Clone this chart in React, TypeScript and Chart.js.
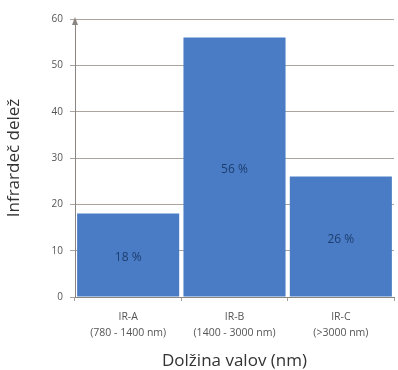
import React, { useEffect, useRef } from "react";
import { Chart, registerables } from "chart.js";

Chart.register(...registerables);

const categories: string[][] = [
  ["IR-A", "(780 - 1400 nm)"],
  ["IR-B", "(1400 - 3000 nm)"],
  ["IR-C", "(>3000 nm)"],
];
const values: number[] = [18, 56, 26];
const valueLabels: string[] = ["18 %", "56 %", "26 %"];
const yTicks = { min: 0, max: 60, step: 10 };
const xTitle = "Dolžina valov (nm)";
const yTitle = "Infrardeč delež";

const barLabelPlugin = {
  id: "barLabels",
  afterDatasetsDraw(chart: any) {
    const ctx = chart.ctx;
    const meta = chart.getDatasetMeta(0);
    ctx.save();
    ctx.fillStyle = "#1d3d6e";
    ctx.font = "12px 'Open Sans'";
    ctx.textAlign = "center";
    ctx.textBaseline = "middle";
    meta.data.forEach((bar: any, i: number) => {
      const y = (bar.y + bar.base) / 2;
      ctx.fillText(valueLabels[i], bar.x, y + 3);
    });
    ctx.restore();
  },
};

const axisArrowPlugin = {
  id: "axisArrow",
  afterDraw(chart: any) {
    const { ctx, chartArea } = chart;
    ctx.save();
    ctx.fillStyle = "#8a8580";
    ctx.beginPath();
    ctx.moveTo(chartArea.left, chartArea.top - 2);
    ctx.lineTo(chartArea.left - 3, chartArea.top + 6);
    ctx.lineTo(chartArea.left + 3, chartArea.top + 6);
    ctx.closePath();
    ctx.fill();
    ctx.restore();
  },
};

export default function App() {
  const ref = useRef<HTMLCanvasElement | null>(null);
  useEffect(() => {
    if (!ref.current) return;
    const chart = new Chart(ref.current, {
      type: "bar",
      data: {
        labels: categories,
        datasets: [
          {
            data: values,
            backgroundColor: "#4a7cc6",
            barPercentage: 0.96,
            categoryPercentage: 1,
          },
        ],
      },
      options: {
        animation: false,
        responsive: false,
        maintainAspectRatio: false,
        layout: { padding: { left: 0, right: 4, top: 19, bottom: 0 } },
        plugins: { legend: { display: false }, tooltip: { enabled: false } },
        scales: {
          x: {
            afterFit(scale: any) {
              scale.height = 73;
            },
            grid: {
              drawOnChartArea: false,
              offset: true,
              tickLength: 4,
              color: "#a8a29c",
            },
            border: { color: "#8a8580", width: 1 },
            ticks: {
              color: "#555",
              font: { family: "'Open Sans'", size: 10.5, lineHeight: 1.5 },
              padding: 8,
            },
            title: {
              display: true,
              text: xTitle,
              color: "#333",
              font: { family: "'Open Sans'", size: 17, lineHeight: 1 },
              padding: { top: 0, bottom: 0 },
            },
          },
          y: {
            min: yTicks.min,
            max: yTicks.max,
            afterFit(scale: any) {
              scale.width = 75;
            },
            grid: {
              color: "#aba49d",
              tickLength: 5,
            },
            border: { color: "#8a8580", width: 1 },
            ticks: {
              stepSize: yTicks.step,
              color: "#555",
              font: { family: "'Open Sans'", size: 10 },
              padding: 7,
            },
            title: {
              display: true,
              text: yTitle,
              color: "#333",
              font: { family: "'Open Sans'", size: 17 },
              padding: { top: 4, bottom: 10 },
            },
          },
        },
      },
      plugins: [barLabelPlugin, axisArrowPlugin],
    });
    return () => chart.destroy();
  }, []);
  return (
    <div style={{ position: "fixed", left: 0, top: 0, width: 398, height: 370, background: "#fff" }}>
      <canvas ref={ref} width={398} height={370} style={{ width: 398, height: 370 }} />
    </div>
  );
}
